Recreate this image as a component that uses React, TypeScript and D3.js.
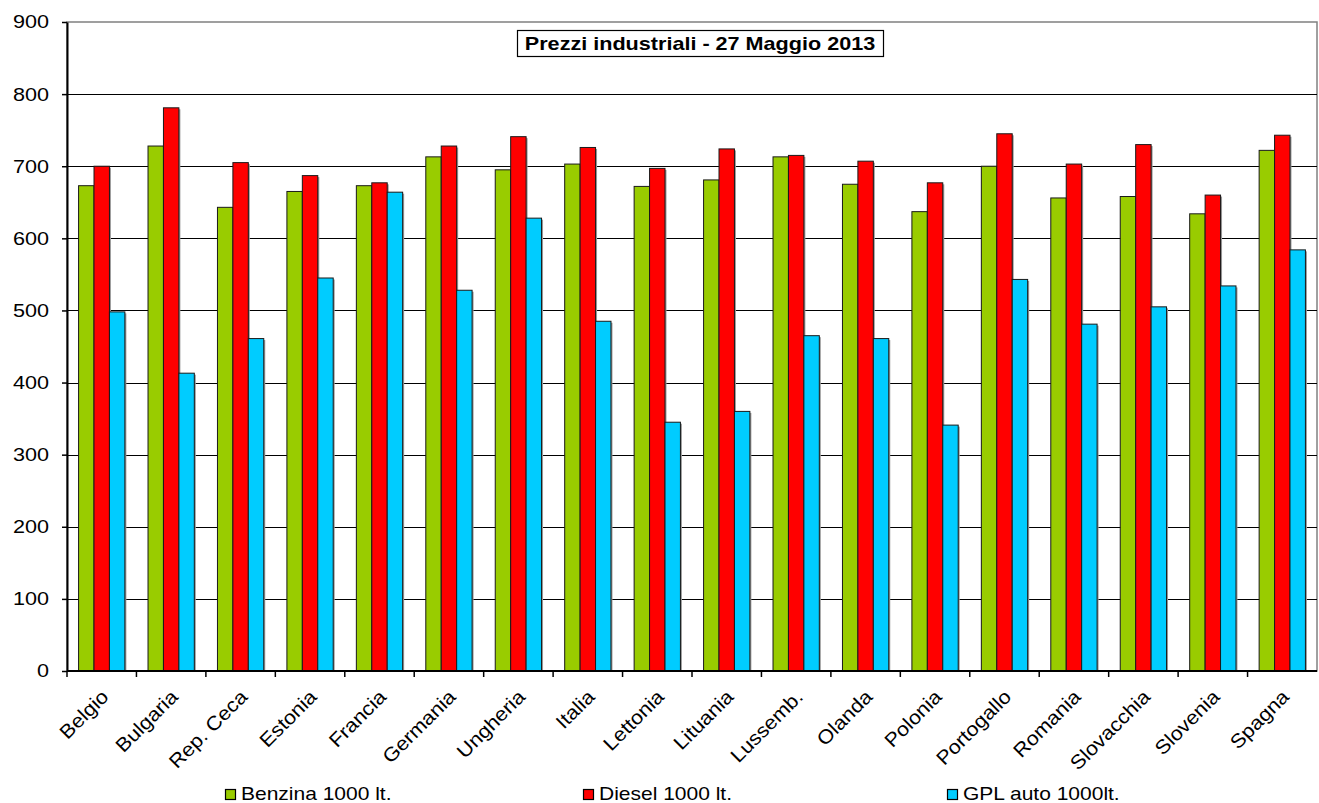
import * as d3 from "d3";
import { useRef, useEffect } from "react";

// chart data
const countries = [
  "Belgio", "Bulgaria", "Rep. Ceca", "Estonia", "Francia", "Germania",
  "Ungheria", "Italia", "Lettonia", "Lituania", "Lussemb.", "Olanda",
  "Polonia", "Portogallo", "Romania", "Slovacchia", "Slovenia", "Spagna",
];
const benzina = [673, 728, 643, 665, 673, 713, 695, 703, 672, 681, 713, 675, 637, 700, 656, 658, 634, 722];
const diesel = [700, 781, 705, 687, 677, 728, 741, 726, 697, 724, 715, 707, 677, 745, 703, 730, 660, 743];
const gpl = [498, 413, 461, 545, 664, 528, 628, 485, 345, 360, 465, 461, 341, 543, 481, 505, 534, 584];
const seriesNames = ["Benzina 1000 lt.", "Diesel 1000 lt.", "GPL auto 1000lt."];
const seriesColors = ["#99CC00", "#FF0000", "#00CCFF"];
const yTicks = [0, 100, 200, 300, 400, 500, 600, 700, 800, 900];
const title = "Prezzi industriali - 27 Maggio 2013";

const width = 1319;
const height = 803;
const marginLeft = 67;
const marginRight = 2;
const marginTop = 22;
const marginBottom = 132;
const font = "'Liberation Sans', Arial, sans-serif";
// excel text looks a bit wider than browser arial
const stretch = 1.2;

const App = () => {
  const ref = useRef(null);

  useEffect(() => {
    if (!ref.current) return;
    const svg = d3.select(ref.current);
    svg.selectAll("*").remove();

    const x = d3.scaleBand()
      .domain(countries)
      .range([marginLeft, width - marginRight])
      .paddingInner(0)
      .paddingOuter(0);

    const y = d3.scaleLinear()
      .domain([0, 900])
      .range([height - marginBottom, marginTop]);

    // gap width 150% like excel
    const gap = x.bandwidth() * 0.75 / 4.5;
    const xSub = d3.scaleBand()
      .domain(seriesNames)
      .range([gap, x.bandwidth() - gap])
      .padding(0);

    // plot border (gray)
    svg.append("rect")
      .attr("x", marginLeft)
      .attr("y", y(900))
      .attr("width", width - marginRight - marginLeft)
      .attr("height", y(0) - y(900))
      .attr("fill", "none")
      .attr("stroke", "#808080")
      .attr("stroke-width", 1.5);

    // gridlines
    svg.append("g")
      .selectAll("line")
      .data(yTicks.filter((t) => t > 0 && t < 900))
      .enter().append("line")
        .attr("x1", marginLeft)
        .attr("x2", width - marginRight)
        .attr("y1", (d) => Math.round(y(d)) + 0.5)
        .attr("y2", (d) => Math.round(y(d)) + 0.5)
        .attr("stroke", "#000")
        .attr("stroke-width", 1.2);

    // bars (with the faint excel shadow on the right)
    const table = countries.map((c, i) => ({ country: c, values: [benzina[i], diesel[i], gpl[i]] }));
    const groups = svg.append("g")
      .selectAll("g")
      .data(table)
      .enter().append("g")
        .attr("transform", (d) => `translate(${x(d.country)},0)`);
    const barData = (d) => d.values.map((v, k) => ({ key: seriesNames[k], value: v, color: seriesColors[k] }));
    groups.selectAll("rect.shadow")
      .data(barData)
      .enter().append("rect")
        .attr("class", "shadow")
        .attr("x", (d) => xSub(d.key) + 1.5)
        .attr("y", (d) => y(d.value) + 1.5)
        .attr("width", xSub.bandwidth())
        .attr("height", (d) => y(0) - y(d.value) - 1.5)
        .attr("fill", "#9a9a9a");
    groups.selectAll("rect.bar")
      .data(barData)
      .enter().append("rect")
        .attr("class", "bar")
        .attr("x", (d) => xSub(d.key))
        .attr("y", (d) => y(d.value))
        .attr("width", xSub.bandwidth())
        .attr("height", (d) => y(0) - y(d.value))
        .attr("fill", (d) => d.color)
        .attr("stroke", "#1a1a1a")
        .attr("stroke-width", 1);

    // y axis
    const yAxis = svg.append("g")
      .attr("transform", `translate(${marginLeft},0)`)
      .call(d3.axisLeft(y).tickValues(yTicks).tickSize(5).tickSizeOuter(0).tickFormat(() => ""));
    yAxis.select(".domain").attr("stroke", "#000").attr("stroke-width", 2);
    yAxis.selectAll(".tick line").attr("stroke", "#000").attr("stroke-width", 1.5);

    svg.append("g")
      .selectAll("text")
      .data(yTicks)
      .enter().append("text")
        .attr("transform", (d) => `translate(${marginLeft - 18},${y(d)}) scale(${stretch},1)`)
        .attr("dy", "0.36em")
        .attr("text-anchor", "end")
        .attr("font-family", font)
        .attr("font-size", 18)
        .attr("fill", "#000")
        .text((d) => d);

    // x axis with ticks between categories
    svg.append("line")
      .attr("x1", marginLeft)
      .attr("x2", width - marginRight)
      .attr("y1", y(0))
      .attr("y2", y(0))
      .attr("stroke", "#000")
      .attr("stroke-width", 2);
    svg.append("g")
      .selectAll("line")
      .data(countries)
      .enter().append("line")
        .attr("x1", (d) => x(d))
        .attr("x2", (d) => x(d))
        .attr("y1", y(0))
        .attr("y2", y(0) + 6)
        .attr("stroke", "#000")
        .attr("stroke-width", 1.5);

    svg.append("g")
      .selectAll("text")
      .data(countries)
      .enter().append("text")
        .attr("transform", (d) => `translate(${x(d) + x.bandwidth() / 2 + 8},${y(0) + 27}) rotate(-45) scale(1.1,1)`)
        .attr("text-anchor", "end")
        .attr("font-family", font)
        .attr("font-size", 19.5)
        .attr("fill", "#000")
        .text((d) => d);

    // title box
    const titleG = svg.append("g");
    titleG.append("rect")
      .attr("x", 517.5)
      .attr("y", 30.5)
      .attr("width", 366)
      .attr("height", 26)
      .attr("fill", "#fff")
      .attr("stroke", "#000")
      .attr("stroke-width", 1.2);
    titleG.append("text")
      .attr("transform", `translate(700,50) scale(${stretch},1)`)
      .attr("text-anchor", "middle")
      .attr("font-family", font)
      .attr("font-size", 18)
      .attr("font-weight", "bold")
      .attr("fill", "#000")
      .text(title);

    // legend
    const legendX = [225, 583, 947];
    const legend = svg.append("g")
      .selectAll("g")
      .data(seriesNames)
      .enter().append("g")
        .attr("transform", (d, i) => `translate(${legendX[i]},789)`);
    legend.append("rect")
      .attr("x", 0.5)
      .attr("y", 0.5)
      .attr("width", 10)
      .attr("height", 10)
      .attr("fill", (d, i) => seriesColors[i])
      .attr("stroke", "#000")
      .attr("stroke-width", 1.2);
    legend.append("text")
      .attr("transform", "translate(16,11) scale(1.2,1)")
      .attr("font-family", font)
      .attr("font-size", 17.5)
      .attr("fill", "#000")
      .text((d) => d);
  }, []);

  return (
    <svg
      ref={ref}
      width={width}
      height={height}
      style={{ position: "absolute", left: 0, top: 0, background: "#fff" }}
    />
  );
};

export default App;
